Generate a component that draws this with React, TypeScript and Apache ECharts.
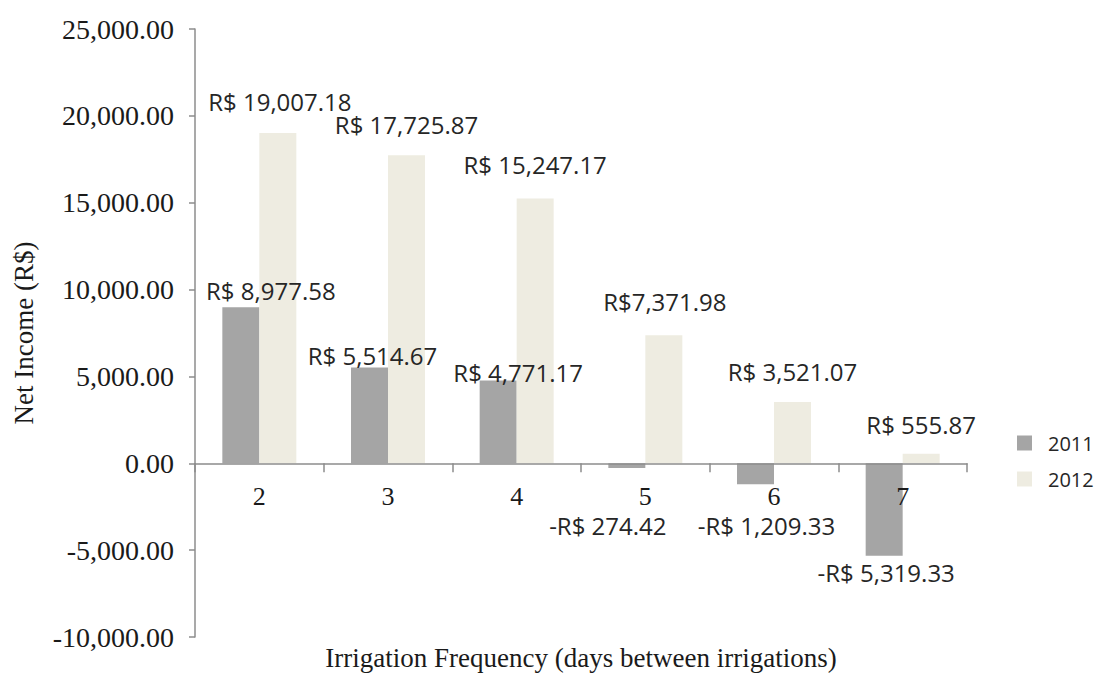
import React, { useEffect, useRef } from "react";
import * as echarts from "echarts";

const categories = ["2", "3", "4", "5", "6", "7"];
const seriesNames = ["2011", "2012"];
const values2011 = [8977.58, 5514.67, 4771.17, -274.42, -1209.33, -5319.33];
const values2012 = [19007.18, 17725.87, 15247.17, 7371.98, 3521.07, 555.87];
const yMin = -10000;
const yMax = 25000;
const yInterval = 5000;

// label placement tweaks (dx, distance) to mimic hand-placed labels
const offs2011 = [[30, 5], [3, 0], [20, -4], [-19, 45], [11, 29], [2, 5]];
const offs2012 = [[2, 20], [0, 19], [0, 22], [1, 22], [0, 19], [0, 17]];

const fmtNum = (v: number) =>
  Math.abs(v).toLocaleString("en-US", { minimumFractionDigits: 2, maximumFractionDigits: 2 });

const money = (v: number, noSpace = false) =>
  (v < 0 ? "-" : "") + "R$" + (noSpace ? "" : " ") + fmtNum(v);

export default function App() {
  const ref = useRef<HTMLDivElement>(null);
  useEffect(() => {
    if (!ref.current) return;
    const chart = echarts.init(ref.current, undefined, { renderer: "svg" });
    const labelFont = { fontFamily: "Open Sans", fontSize: 24, color: "#262626" };
    const serif = "Liberation Serif";
    const gridTop = 29;
    const gridBottomPx = 637;
    const zeroPx = gridTop + ((gridBottomPx - gridTop) * yMax) / (yMax - yMin);
    const mk = (vals: number[], offs: number[][], noSpaceIdx: number) =>
      vals.map((v, i) => ({
        value: v,
        label: {
          show: true,
          position: "outside",
          distance: offs[i][1],
          offset: [offs[i][0], 0],
          formatter: () => money(v, i === noSpaceIdx),
          ...labelFont,
        },
      }));
    chart.setOption({
      animation: false,
      grid: {
        left: 195,
        right: 130,
        top: gridTop,
        bottom: 675 - gridBottomPx,
        containLabel: false,
        outerBoundsMode: "none",
      },
      legend: {
        orient: "vertical",
        left: 1012,
        top: 428,
        itemWidth: 15,
        itemHeight: 15,
        itemGap: 16,
        icon: "rect",
        textStyle: { fontFamily: "Open Sans", fontSize: 20, color: "#262626", padding: [0, 0, 0, 11] },
        data: seriesNames,
      },
      xAxis: {
        type: "category",
        data: categories,
        z: 3,
        offset: -(gridBottomPx - zeroPx),
        name: "Irrigation Frequency (days between irrigations)",
        nameLocation: "middle",
        nameGap: 181,
        nameMoveOverlap: false,
        nameTextStyle: { fontFamily: serif, fontSize: 27, color: "#1a1a1a" },
        axisLine: { onZero: false, lineStyle: { color: "#8c8c8c", width: 1.5 } },
        axisTick: { show: true, length: 9, lineStyle: { color: "#8c8c8c", width: 1.5 } },
        axisLabel: { fontFamily: serif, fontSize: 26, color: "#1a1a1a", margin: 20 },
      },
      yAxis: {
        type: "value",
        min: yMin,
        max: yMax,
        interval: yInterval,
        name: "Net Income (R$)",
        nameLocation: "middle",
        nameGap: 158,
        nameRotate: 90,
        nameMoveOverlap: false,
        nameTextStyle: { fontFamily: serif, fontSize: 27, color: "#1a1a1a" },
        splitLine: { show: false },
        axisLine: { show: true, lineStyle: { color: "#8c8c8c", width: 1.5 } },
        axisTick: { show: true, length: 6, lineStyle: { color: "#8c8c8c", width: 1.5 } },
        axisLabel: {
          fontFamily: serif,
          fontSize: 28,
          color: "#1a1a1a",
          margin: 21,
          formatter: (v: number) => (v < 0 ? "-" : "") + fmtNum(v),
        },
      },
      series: [
        {
          name: seriesNames[0],
          type: "bar",
          barWidth: 37,
          barGap: "0%",
          itemStyle: { color: "#a5a5a5" },
          data: mk(values2011, offs2011, -1),
        },
        {
          name: seriesNames[1],
          type: "bar",
          barWidth: 37,
          barGap: "0%",
          itemStyle: { color: "#eeece1" },
          data: mk(values2012, offs2012, 3),
        },
      ],
    });
    return () => chart.dispose();
  }, []);
  return <div ref={ref} style={{ width: 1097, height: 675, position: "absolute", left: 0, top: 0 }} />;
}
